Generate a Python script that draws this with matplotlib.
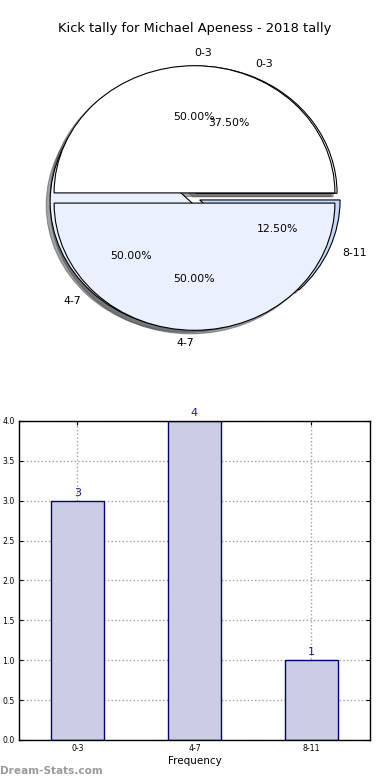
import matplotlib
matplotlib.use("Agg")
import matplotlib.pyplot as plt

# Data
title = "Kick tally for Michael Apeness - 2018 tally"
categories = ["0-3", "4-7", "8-11"]
counts = [3, 4, 1]
split_labels = ["0-3", "4-7"]
split_values = [1, 1]
y_ticks = [0.0, 0.5, 1.0, 1.5, 2.0, 2.5, 3.0, 3.5, 4.0]

pie_colors = ["white", "#eaf0fd", "#c8d8f6"]
bar_face = "#cccce4"
bar_edge = "#000080"

fig = plt.figure(figsize=(3.9, 7.8), dpi=100)
fig.patch.set_facecolor("white")

FS = 7.8

# ---- Pie axes ----
ax1 = fig.add_axes([0.0487, 0.5423, 0.9, 0.4077])
wp = dict(edgecolor="black", linewidth=0.8)
ax1.pie(counts, labels=categories, colors=pie_colors, autopct="%1.2f%%",
        explode=[0.04] * len(counts), shadow=True, startangle=0,
        wedgeprops=wp, textprops=dict(fontsize=FS))
w2, t2, a2 = ax1.pie(split_values, labels=split_labels, colors=pie_colors[:2], autopct="%1.2f%%",
                     explode=[0.04] * len(split_values), shadow=True, startangle=0,
                     wedgeprops=wp, textprops=dict(fontsize=FS))
t2[0].set_ha("left")
t2[1].set_ha("right")
ax1.set_aspect("auto")
ax1.set_xlim(-1.25, 1.25)
ax1.set_ylim(-1.25, 1.25)
ax1.set_title(title, fontsize=9.4, pad=5)

# ---- Bar axes ----
ax2 = fig.add_axes([0.0487, 0.0513, 0.9, 0.409])
x = list(range(len(categories)))
ax2.bar(x, counts, width=0.45, color=bar_face, edgecolor=bar_edge, linewidth=1, zorder=2)
for xi, c in zip(x, counts):
    ax2.text(xi, c + 0.04, str(c), ha="center", va="bottom", color="#1a1a8c", fontsize=8)
ax2.set_xlim(-0.5, 2.5)
ax2.set_ylim(0, 4)
ax2.set_xticks(x)
ax2.set_xticklabels(categories)
ax2.set_yticks(y_ticks)
ax2.set_yticklabels([f"{v:.1f}" for v in y_ticks])
ax2.tick_params(direction="in", top=True, right=True, labelsize=5.6, length=3, pad=3)
ax2.grid(True, linestyle=":", color="#a0a0a0", linewidth=1, zorder=0)
ax2.set_axisbelow(True)
ax2.set_xlabel("Frequency", fontsize=7.5, labelpad=2)
for s in ax2.spines.values():
    s.set_linewidth(1)

fig.text(0.0, 0.005, "Dream-Stats.com", color="#9a9a9a", fontsize=7.6,
         fontweight="bold", ha="left", va="bottom")

fig.savefig("out.png", dpi=100)
